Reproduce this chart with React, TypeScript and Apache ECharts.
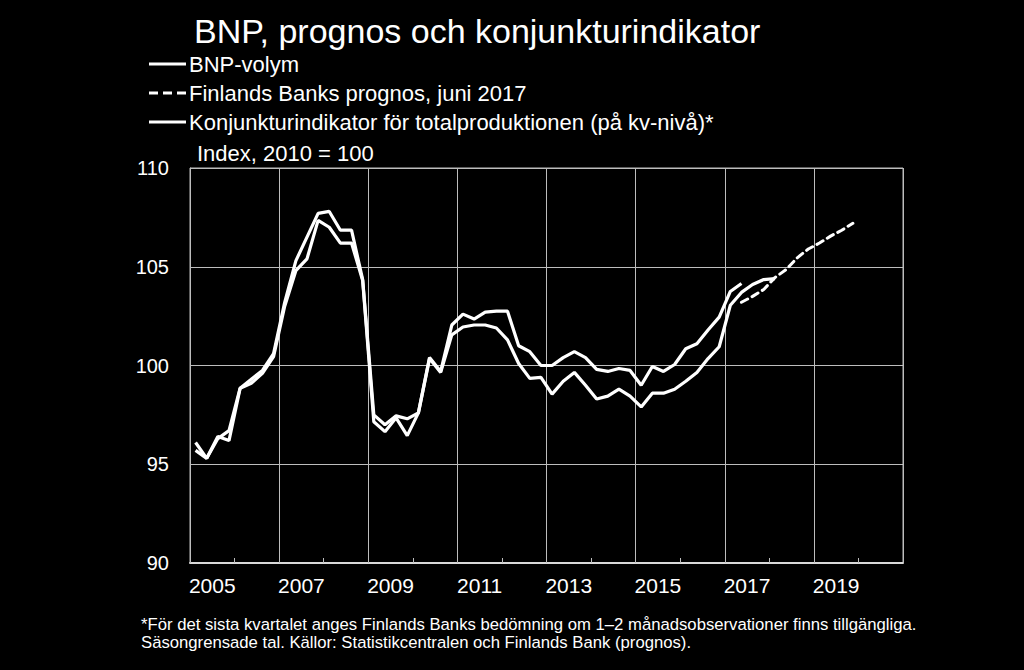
import React, { useEffect, useRef } from "react";
import * as echarts from "echarts";

const years = ["2005","2006","2007","2008","2009","2010","2011","2012","2013","2014","2015","2016","2017","2018","2019","2020"];
const quarters = years.flatMap((y) => ["K1", "K2", "K3", "K4"].map((k) => y + k));

// Upper solid line (ends 2017Q2)
const konjunktur = [
  95.7, 95.3, 96.4, 96.2, 98.85, 99.3, 99.75, 100.6,
  103.2, 105.3, 106.5, 107.7, 107.8, 106.85, 106.85, 104.35,
  97.5, 97.0, 97.45, 97.3, 97.6, 100.4, 99.7, 102.05,
  102.6, 102.35, 102.7, 102.75, 102.75, 101.0, 100.7, 100.0,
  100.0, 100.4, 100.7, 100.4, 99.8, 99.7, 99.85, 99.75,
  99.0, 99.95, 99.7, 100.05, 100.85, 101.1, 101.8, 102.45,
  103.75, 104.15,
];

// Lower solid line
const bnp = [
  96.1, 95.3, 96.3, 96.7, 98.85, 99.1, 99.6, 100.45,
  103.0, 104.8, 105.4, 107.35, 107.0, 106.2, 106.2, 104.3,
  97.15, 96.65, 97.35, 96.45, 97.6, 100.35, 99.65, 101.55,
  101.95, 102.05, 102.05, 101.9, 101.3, 100.1, 99.35, 99.4,
  98.55, 99.2, 99.65, 99.0, 98.3, 98.45, 98.8, 98.45,
  97.9, 98.6, 98.6, 98.8, 99.2, 99.65, 100.35, 100.95,
  103.05, 103.7, 104.1, 104.35, 104.4,
];

// Forecast from 2017Q2 to 2019Q4
const forecastStart = 49;
const forecastValues = [103.2, 103.5, 103.85, 104.45, 104.85, 105.45, 105.9, 106.2, 106.55, 106.85, 107.2];

const yTicks = { min: 90, max: 110, interval: 5 };

const titleText = "BNP, prognos och konjunkturindikator";
const legendItems = ["BNP-volym", "Finlands Banks prognos, juni 2017", "Konjunkturindikator för totalproduktionen (på kv-nivå)*"];
const unitText = "Index, 2010 = 100";
const footnote1 = "*För det sista kvartalet anges Finlands Banks bedömning om 1–2 månadsobservationer finns tillgängliga.";
const footnote2 = "Säsongrensade tal. Källor: Statistikcentralen och Finlands Bank (prognos).";

const FONT = "'Liberation Sans', Arial, sans-serif";

export default function App() {
  const ref = useRef<HTMLDivElement>(null);
  useEffect(() => {
    if (!ref.current) return;
    const chart = echarts.init(ref.current, null, { renderer: "svg" });
    const forecast = quarters.map((_, i) =>
      i >= forecastStart && i < forecastStart + forecastValues.length ? forecastValues[i - forecastStart] : null
    );
    const legendY = [64, 93, 122];
    chart.setOption({
      animation: false,
      backgroundColor: "#000000",
      textStyle: { fontFamily: FONT },
      grid: { left: 190, right: 121, top: 168, bottom: 107, show: true, borderColor: "#bdbdbd", borderWidth: 1 },
      xAxis: [
        { type: "category", data: quarters, boundaryGap: true, show: false },
        {
          type: "category",
          data: years,
          boundaryGap: true,
          position: "bottom",
          axisLine: { show: true, lineStyle: { color: "#d9d9d9", width: 2 } },
          axisTick: { show: true, inside: true, length: 5, interval: 0, lineStyle: { color: "#bdbdbd" } },
          axisLabel: { interval: 1, color: "#ffffff", fontSize: 21, margin: 12, fontFamily: FONT },
          splitLine: { show: true, interval: 1, lineStyle: { color: "#bdbdbd", width: 1 } },
        },
      ],
      yAxis: {
        type: "value",
        min: yTicks.min,
        max: yTicks.max,
        interval: yTicks.interval,
        axisLine: { show: true, lineStyle: { color: "#bdbdbd" } },
        axisTick: { show: false },
        axisLabel: { color: "#ffffff", fontSize: 20, margin: 21, fontFamily: FONT },
        splitLine: { show: true, lineStyle: { color: "#bdbdbd", width: 1 } },
      },
      series: [
        {
          name: legendItems[0], type: "line", xAxisIndex: 0, data: bnp, showSymbol: false,
          lineStyle: { color: "#ffffff", width: 3.2 }, z: 3,
        },
        {
          name: legendItems[2], type: "line", xAxisIndex: 0, data: konjunktur, showSymbol: false,
          lineStyle: { color: "#ffffff", width: 3.2 }, z: 3,
        },
        {
          name: legendItems[1], type: "line", xAxisIndex: 0, data: forecast, showSymbol: false, connectNulls: false,
          lineStyle: { color: "#ffffff", width: 3, type: [7, 5], cap: "round" }, z: 3,
        },
      ],
      graphic: [
        { type: "text", x: 194, y: 31, style: { text: titleText, fill: "#ffffff", fontSize: 34, fontFamily: FONT, verticalAlign: "middle" } },
        { type: "line", shape: { x1: 149, y1: legendY[0], x2: 186, y2: legendY[0] }, style: { stroke: "#ffffff", lineWidth: 3 } },
        { type: "line", shape: { x1: 149, y1: legendY[1], x2: 186, y2: legendY[1] }, style: { stroke: "#ffffff", lineWidth: 3, lineDash: [9, 5] } },
        { type: "line", shape: { x1: 149, y1: legendY[2], x2: 186, y2: legendY[2] }, style: { stroke: "#ffffff", lineWidth: 3 } },
        ...legendItems.map((t, i) => ({
          type: "text", x: 189, y: legendY[i],
          style: { text: t, fill: "#ffffff", fontSize: 22, fontFamily: FONT, verticalAlign: "middle" },
        })),
        { type: "text", x: 197, y: 153, style: { text: unitText, fill: "#ffffff", fontSize: 22, fontFamily: FONT, verticalAlign: "middle" } },
        { type: "text", x: 141, y: 624, style: { text: footnote1, fill: "#ffffff", fontSize: 16.7, fontFamily: FONT, verticalAlign: "middle" } },
        { type: "text", x: 141, y: 642, style: { text: footnote2, fill: "#ffffff", fontSize: 16.7, fontFamily: FONT, verticalAlign: "middle" } },
      ],
    });
    return () => chart.dispose();
  }, []);
  return <div ref={ref} style={{ position: "fixed", left: 0, top: 0, width: 1024, height: 670, background: "#000" }} />;
}
